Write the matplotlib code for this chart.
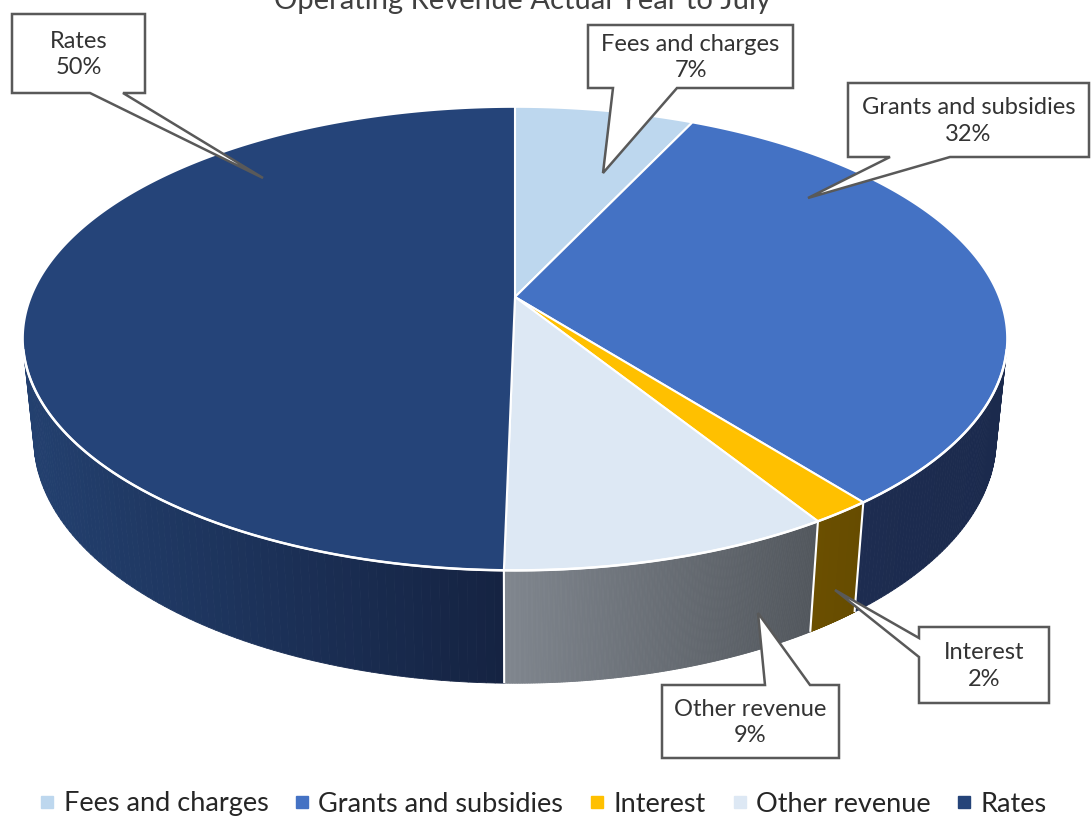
import numpy as np
import matplotlib
matplotlib.use("Agg")
import matplotlib.pyplot as plt
from matplotlib.collections import PolyCollection
from matplotlib.patches import Polygon
from matplotlib.lines import Line2D
from matplotlib.colors import to_rgb

# ----------------------------------- DATA ----------------------------------- #

categories = ["Fees and charges", "Grants and subsidies", "Interest", "Other revenue", "Rates"]
values = [7.0, 32.4, 1.7, 9.2, 49.7]
top_colors = ["#BDD7EE", "#4472C4", "#FFC000", "#DDE8F4", "#254479"]
side_colors = [("#8FAAC4", "#7E9CB8"), ("#1D2C50", "#1B2A4D"), ("#6B4F00", "#664C00"),
               ("#80868E", "#52575D"), ("#23406F", "#152342")]
title = "Operating Revenue Actual Year to July"

# callout boxes: (left, top, right, bottom), pointer base, tip
boxes = {
    "Rates": ((12, 14, 145, 93), ("bottom", 90, 123), (263, 178)),
    "Fees and charges": ((588, 25, 793, 88), ("bottom", 613, 677), (603, 173)),
    "Grants and subsidies": ((848, 83, 1089, 157), ("bottom", 890, 950), (808, 198)),
    "Interest": ((919, 627, 1049, 703), ("left", 638, 657), (835, 590)),
    "Other revenue": ((662, 685, 839, 758), ("top", 765, 810), (758, 613)),
}

# ------------------------------- PROJECTION -------------------------------- #

cx, cy = 515, 297
elev = np.radians(27.6)
s, c = np.sin(elev), np.cos(elev)
D = 4.94
f = 2392
h = 0.2357


def project(theta, z):
    X = np.cos(theta)
    Y = np.sin(theta)
    v = Y * s + z * c
    d = Y * c - z * s
    return cx + f * X / (D + d), cy - f * v / (D + d)


def visible(theta):
    # side wall faces the camera
    return np.sin(theta) < -1.0 / (D * c)


def mix(c1, c2, t):
    a, b = np.array(to_rgb(c1)), np.array(to_rgb(c2))
    return tuple(a + (b - a) * t)


# ----------------------------------- PLOT ----------------------------------- #

plt.rcParams['font.family'] = ['Lato', 'DejaVu Sans']

fig = plt.figure(figsize=(10.91, 8.26), dpi=100)
ax = fig.add_axes([0, 0, 1, 1])
ax.set_xlim(0, 1091)
ax.set_ylim(826, 0)
ax.axis('off')

vals = np.array(values)
cum = np.concatenate([[0], np.cumsum(vals) / vals.sum()])
thetas = np.pi / 2 - 2 * np.pi * cum

# side walls
for i in range(len(values)):
    a = np.linspace(thetas[i], thetas[i + 1], 200)
    quads = []
    xs_mid = []
    for j in range(len(a) - 1):
        mid = 0.5 * (a[j] + a[j + 1])
        if not visible(mid):
            continue
        p1 = project(a[j], 0)
        p2 = project(a[j + 1], 0)
        p3 = project(a[j + 1], -h)
        p4 = project(a[j], -h)
        quads.append([p1, p2, p3, p4])
        xs_mid.append(0.5 * (p1[0] + p2[0]))
    if not quads:
        continue
    xs_mid = np.array(xs_mid)
    span = max(xs_mid.max() - xs_mid.min(), 1)
    cols = [mix(side_colors[i][0], side_colors[i][1], (x - xs_mid.min()) / span) for x in xs_mid]
    pc = PolyCollection(quads, facecolors=cols, edgecolors=cols, linewidths=0.6)
    ax.add_collection(pc)

# white lines on the front wall at slice boundaries
for t in thetas[1:-1]:
    if visible(t):
        x0, y0 = project(t, 0)
        x1, y1 = project(t, -h)
        ax.plot([x0, x1], [y0, y1], color='white', lw=1.5, solid_capstyle='butt')

# top face
for i in range(len(values)):
    a = np.linspace(thetas[i], thetas[i + 1], 300)
    rx, ry = project(a, 0)
    pts = np.column_stack([np.concatenate([[cx], rx]), np.concatenate([[cy], ry])])
    ax.add_patch(Polygon(pts, closed=True, facecolor=top_colors[i], edgecolor='white',
                         lw=1.5, joinstyle='miter'))

# white rim along the visible front
rim = np.linspace(-np.pi, 0, 600)
rim = rim[visible(rim)]
rx, ry = project(rim, 0)
ax.plot(rx, ry, color='white', lw=1.8)

# callouts
pct = vals / vals.sum() * 100
for name, p in zip(categories, pct):
    (l, t, r, b), (side, p1, p2), tip = boxes[name]
    if side == "bottom":
        pts = [(l, t), (r, t), (r, b), (p2, b), tip, (p1, b), (l, b)]
    elif side == "top":
        pts = [(l, t), (p1, t), tip, (p2, t), (r, t), (r, b), (l, b)]
    else:
        pts = [(l, t), (r, t), (r, b), (l, b), (l, p2), tip, (l, p1)]
    ax.add_patch(Polygon(pts, closed=True, facecolor='white', edgecolor='#595959', lw=1.8,
                         joinstyle='miter', zorder=5))
    ax.text((l + r) / 2, (t + b) / 2 + 1, f"{name}\n{p:.0f}%", ha='center', va='center',
            fontsize=17, color='#333333', linespacing=1.35, zorder=6)

# title (partly cut off at the top, as in the source)
ax.text(522, 9, title, ha='center', va='baseline', fontsize=21, color='#404040')

# legend
handles = [Line2D([], [], marker='s', linestyle='none', markersize=9, color=col)
           for col in top_colors]
fig.legend(handles, categories, loc='center', bbox_to_anchor=(0.497, 1 - 804 / 826),
           ncol=5, frameon=False, fontsize=19.5, handletextpad=0.25, columnspacing=0.9,
           labelcolor='#262626', handlelength=0.7)

fig.savefig("out.png", dpi=100)
